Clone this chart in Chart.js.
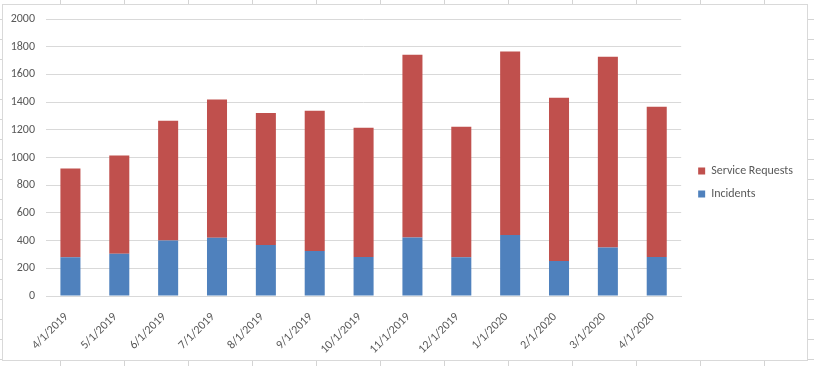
<!DOCTYPE html>
<html>
<head>
<meta charset="utf-8">
<script src="https://cdn.jsdelivr.net/npm/chart.js@4.4.1/dist/chart.umd.min.js"></script>
<style>
  html, body { margin: 0; padding: 0; background: #fff; }
  body {
    width: 814px; height: 366px; position: relative; overflow: hidden;
    /* spreadsheet cell lines behind the chart */
    background-image:
      repeating-linear-gradient(to right, transparent 0, transparent 59px, #d4d4d4 59px, #d4d4d4 60px, transparent 60px, transparent 64px),
      repeating-linear-gradient(to bottom, transparent 0, transparent 19px, #d4d4d4 19px, #d4d4d4 20px);
    background-position: 1px 0, 0 0;
  }
  #box {
    position: absolute; left: 2px; top: 4px; width: 804px; height: 355px;
    border: 1px solid #d9d9d9; background: #fff;
  }
  canvas { display: block; }
</style>
</head>
<body>
<div id="box"><canvas id="c" width="804" height="355"></canvas></div>
<script>
// monthly ticket counts
const months = ['4/1/2019', '5/1/2019', '6/1/2019', '7/1/2019', '8/1/2019', '9/1/2019',
  '10/1/2019', '11/1/2019', '12/1/2019', '1/1/2020', '2/1/2020', '3/1/2020', '4/1/2020'];
const incidents = [280, 305, 400, 420, 368, 325, 282, 422, 280, 440, 252, 350, 282];
const serviceRequests = [640, 710, 865, 998, 954, 1013, 933, 1320, 942, 1325, 1180, 1378, 1085];
const yTicks = [0, 200, 400, 600, 800, 1000, 1200, 1400, 1600, 1800, 2000];

const FONT = 'Carlito, Calibri, "Liberation Sans", Arial, sans-serif';
const TEXT = '#595959';
const GRID = '#d9d9d9';

new Chart(document.getElementById('c').getContext('2d'), {
  type: 'bar',
  data: {
    labels: months,
    datasets: [
      { label: 'Incidents', data: incidents, backgroundColor: '#4f81bd', order: 1 },
      { label: 'Service Requests', data: serviceRequests, backgroundColor: '#c0504d', order: 2 }
    ]
  },
  options: {
    responsive: false,
    animation: false,
    datasets: { bar: { categoryPercentage: 1, barPercentage: 0.41 } },
    layout: { padding: { left: 0, right: 4, top: 0, bottom: 0 } },
    plugins: {
      tooltip: { enabled: false },
      legend: {
        position: 'right',
        reverse: true,
        labels: {
          boxWidth: 7, boxHeight: 7, padding: 11,
          color: TEXT, font: { family: FONT, size: 12 }
        }
      }
    },
    scales: {
      x: {
        stacked: true,
        grid: { display: false, drawTicks: false },
        border: { display: true, color: GRID },
        ticks: {
          color: TEXT, font: { family: FONT, size: 12 },
          minRotation: 45, maxRotation: 45, padding: 14, labelOffset: -4
        },
        afterFit: s => { s.height = 64; s.paddingLeft = 0; s.paddingRight = 0; }
      },
      y: {
        stacked: true,
        min: 0, max: 2000,
        afterBuildTicks: axis => { axis.ticks = yTicks.map(v => ({ value: v })); },
        grid: { color: GRID, drawTicks: false },
        border: { display: false },
        ticks: {
          color: TEXT, font: { family: FONT, size: 12 }, padding: 11,
          callback: v => String(v)
        },
        afterFit: s => { s.width = 43; s.paddingTop = 14; s.paddingBottom = 0; }
      },
      // empty spacer between plot area and legend
      gap: {
        position: 'right',
        grid: { display: false, drawTicks: false },
        border: { display: false },
        ticks: { display: false },
        afterFit: s => { s.width = 6; }
      }
    }
  }
});
</script>
</body>
</html>
